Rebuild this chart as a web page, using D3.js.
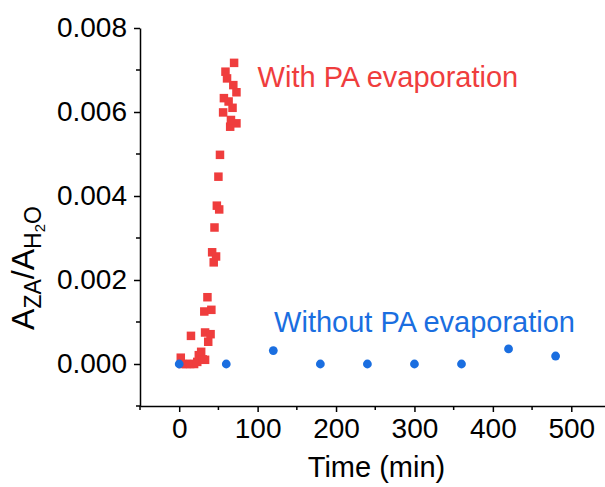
<!DOCTYPE html>
<html>
<head>
<meta charset="utf-8">
<script src="https://cdn.jsdelivr.net/npm/d3@7"></script>
<style>
  body { margin: 0; background: #fff; }
  text { font-family: Arial, 'Liberation Sans', sans-serif; }
</style>
</head>
<body>
<svg id="viz"></svg>
<script>
// ----------------------- DATA
// with PA evaporation: time (min) and A_ZA/A_H2O
const withTime = [2, 4, 9, 14, 19, 15, 23, 25, 28, 30, 33, 32, 33, 36, 37, 40, 41, 42, 44, 45, 47, 48, 50, 51, 52, 56, 57, 59, 61, 63, 65, 66, 68, 69, 70, 73, 73];
const withRatio = [0.00015, 0, 0, 0, 0, 0.00067, 0.00005, 0.00021, 0.00029, 0.00011, 0.00010, 0.00125, 0.00075, 0.00159, 0.00053, 0.00071, 0.00129, 0.00266, 0.00242, 0.00325, 0.00256, 0.00377, 0.00446, 0.00368, 0.00498, 0.00599, 0.00633, 0.00696, 0.00680, 0.00625, 0.00565, 0.00581, 0.00610, 0.00664, 0.00717, 0.00573, 0.00647];

// without PA evaporation
const withoutTime = [0, 60, 120, 180, 240, 300, 360, 420, 480];
const withoutRatio = [0, 0, 0.00032, 0, 0, 0, 0, 0.00036, 0.00019];

const xTicks = [0, 100, 200, 300, 400, 500];
const xMinor = [-50, 50, 150, 250, 350, 450];
const yTicks = [0, 0.002, 0.004, 0.006, 0.008];
const yMinor = [-0.001, 0.001, 0.003, 0.005, 0.007];

// ----------------------- SETTINGS
const width = 605, height = 487;
const red = '#ef3d3d', blue = '#1a6ee0';

const x = d3.scaleLinear().domain([-50, 543]).range([140, 605]);
const y = d3.scaleLinear().domain([-0.001, 0.008]).range([406, 28]);

const svg = d3.select('#viz')
  .attr('width', width)
  .attr('height', height);

// ----------------------- AXES
const xAxis = svg.append('g')
  .attr('transform', `translate(0, ${y.range()[0]})`)
  .call(d3.axisBottom(x).tickValues(xTicks).tickSize(6).tickSizeOuter(0).tickPadding(6).tickFormat(d3.format('d')));

xAxis.selectAll('.minor')
  .data(xMinor)
  .enter().append('line')
  .attr('class', 'minor')
  .attr('x1', d => x(d)).attr('x2', d => x(d))
  .attr('y1', 0).attr('y2', 4);

const yAxis = svg.append('g')
  .attr('transform', `translate(${x.range()[0]}, 0)`)
  .call(d3.axisLeft(y).tickValues(yTicks).tickSize(6).tickSizeOuter(0).tickPadding(7).tickFormat(d3.format('.3f')));

yAxis.selectAll('.minor')
  .data(yMinor)
  .enter().append('line')
  .attr('class', 'minor')
  .attr('y1', d => y(d)).attr('y2', d => y(d))
  .attr('x1', 0).attr('x2', -4);

svg.selectAll('.domain, .tick line, .minor')
  .attr('stroke', '#000')
  .attr('stroke-width', 1.5);

svg.selectAll('.tick text')
  .attr('font-size', 28)
  .attr('fill', '#000');

// axis titles
svg.append('text')
  .attr('x', (x.range()[0] + x.range()[1]) / 2 + 4)
  .attr('y', 477)
  .attr('text-anchor', 'middle')
  .attr('font-size', 29)
  .text('Time (min)');

const yTitle = svg.append('text')
  .attr('transform', 'translate(34, 268) rotate(-90)')
  .attr('text-anchor', 'middle')
  .attr('font-size', 32);
yTitle.append('tspan').text('A');
yTitle.append('tspan').attr('font-size', 23).attr('dy', 7).text('ZA');
yTitle.append('tspan').attr('dy', -7).text('/A');
yTitle.append('tspan').attr('font-size', 23).attr('dy', 7).text('H');
yTitle.append('tspan').attr('font-size', 15).attr('dy', 4).text('2');
yTitle.append('tspan').attr('font-size', 23).attr('dy', -4).text('O');

// ----------------------- MARKS
const s = 8.5;
svg.selectAll('.with')
  .data(withTime.map((t, i) => ({ t, v: withRatio[i] })))
  .enter().append('rect')
  .attr('class', 'with')
  .attr('x', d => x(d.t) - s / 2)
  .attr('y', d => y(d.v) - s / 2)
  .attr('width', s)
  .attr('height', s)
  .attr('fill', red);

svg.selectAll('.without')
  .data(withoutTime.map((t, i) => ({ t, v: withoutRatio[i] })))
  .enter().append('circle')
  .attr('class', 'without')
  .attr('cx', d => x(d.t))
  .attr('cy', d => y(d.v))
  .attr('r', 4.4)
  .attr('fill', blue);

// ----------------------- LABELS
svg.append('text')
  .attr('x', x(100))
  .attr('y', y(0.0066))
  .attr('font-size', 29)
  .attr('fill', red)
  .text('With PA evaporation');

svg.append('text')
  .attr('x', x(121))
  .attr('y', y(0.00076))
  .attr('font-size', 29)
  .attr('fill', blue)
  .text('Without PA evaporation');
</script>
</body>
</html>
